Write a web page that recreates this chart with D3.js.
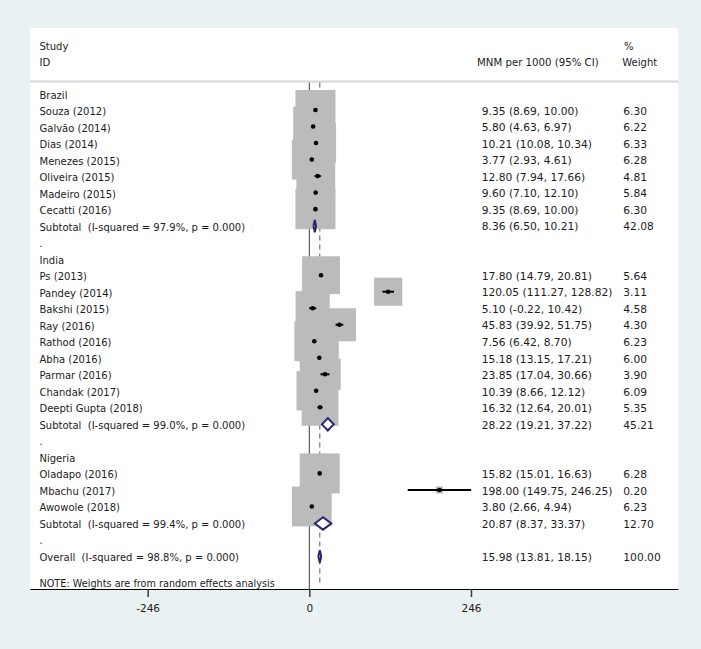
<!DOCTYPE html>
<html><head><meta charset="utf-8">
<script src="https://cdn.jsdelivr.net/npm/d3@7"></script>
<style>
html,body{margin:0;padding:0;background:#e9f1f2;}
svg{display:block;}
text{font-family:"DejaVu Sans",sans-serif;fill:#1c1c1c;white-space:pre;}
</style></head>
<body>
<svg id="chart" width="701" height="649"></svg>
<script>
// ---- data ----
const rowLabels = [
  "Brazil","Souza (2012)","Galvão (2014)","Dias (2014)","Menezes (2015)","Oliveira (2015)","Madeiro (2015)","Cecatti (2016)",
  "Subtotal  (I-squared = 97.9%, p = 0.000)",".",
  "India","Ps (2013)","Pandey (2014)","Bakshi (2015)","Ray (2016)","Rathod (2016)","Abha (2016)","Parmar (2016)","Chandak (2017)","Deepti Gupta (2018)",
  "Subtotal  (I-squared = 99.0%, p = 0.000)",".",
  "Nigeria","Oladapo (2016)","Mbachu (2017)","Awowole (2018)",
  "Subtotal  (I-squared = 99.4%, p = 0.000)",".",
  "Overall  (I-squared = 98.8%, p = 0.000)"
];
// row type: h = heading, s = study, t = subtotal, o = overall, b = blank
const rowTypes = ["h","s","s","s","s","s","s","s","t","b","h","s","s","s","s","s","s","s","s","s","t","b","h","s","s","s","t","b","o"];
const estimates = [null,9.35,5.80,10.21,3.77,12.80,9.60,9.35,8.36,null,null,17.80,120.05,5.10,45.83,7.56,15.18,23.85,10.39,16.32,28.22,null,null,15.82,198.00,3.80,20.87,null,15.98];
const lowerCI   = [null,8.69,4.63,10.08,2.93,7.94,7.10,8.69,6.50,null,null,14.79,111.27,-0.22,39.92,6.42,13.15,17.04,8.66,12.64,19.21,null,null,15.01,149.75,2.66,8.37,null,13.81];
const upperCI   = [null,10.00,6.97,10.34,4.61,17.66,12.10,10.00,10.21,null,null,20.81,128.82,10.42,51.75,8.70,17.21,30.66,12.12,20.01,37.22,null,null,16.63,246.25,4.94,33.37,null,18.15];
const weights   = [null,6.30,6.22,6.33,6.28,4.81,5.84,6.30,42.08,null,null,5.64,3.11,4.58,4.30,6.23,6.00,3.90,6.09,5.35,45.21,null,null,6.28,0.20,6.23,12.70,null,100.00];
const tickValues = [-246, 0, 246];
const overallEstimate = 15.98;
const headerLeft = ["Study","ID"];
const headerEst = "MNM per 1000 (95% CI)";
const headerWeight = ["%","Weight"];
const noteText = "NOTE: Weights are from random effects analysis";

// ---- layout ----
const panel = {x0:30, y0:28, x1:678, y1:589};
const svg = d3.select("#chart");
const x = d3.scaleLinear().domain([-425, 561]).range([panel.x0, panel.x1]);
const y = d3.scaleLinear().domain([0, 28]).range([94.5, 557]);
const labelX = 39.5, estX = 481.7, wX = 623.3;
const boxSide = w => 15.94 * Math.sqrt(w);
const loc = d3.formatLocale({decimal:".", thousands:",", grouping:[3], currency:["",""], minus:"-"});
const f2 = loc.format(".2f");
const fInt = loc.format("d");

svg.append("rect").attr("x",0).attr("y",0).attr("width",701).attr("height",649).attr("fill","#e9f1f2");
svg.append("rect").attr("x",panel.x0).attr("y",panel.y0).attr("width",panel.x1-panel.x0).attr("height",panel.y1-panel.y0).attr("fill","#ffffff");

// header
const hdr = svg.append("g").attr("font-size",10);
headerLeft.forEach((t,i)=>hdr.append("text").attr("x",labelX).attr("y",46+i*16.6).attr("dy","0.35em").text(t));
hdr.append("text").attr("x",477).attr("y",62.6).attr("dy","0.35em").attr("font-size",10.2).text(headerEst);
headerWeight.forEach((t,i)=>hdr.append("text").attr("x",i===0?624:622.3).attr("y",46+i*16.6).attr("dy","0.35em").attr("font-size",10).text(t));
svg.append("line").attr("x1",panel.x0).attr("x2",panel.x1).attr("y1",81.5).attr("y2",81.5).attr("stroke","#d6d6d6").attr("stroke-width",2);

// reference lines
svg.append("line").attr("x1",x(0)).attr("x2",x(0)).attr("y1",82.5).attr("y2",panel.y1).attr("stroke","#3a3a3a").attr("stroke-width",1);
svg.append("line").attr("x1",x(overallEstimate)).attr("x2",x(overallEstimate)).attr("y1",82.5).attr("y2",panel.y1-5)
  .attr("stroke","#9c3b4b").attr("stroke-width",1).attr("stroke-dasharray","5,4");

const rows = rowLabels.map((lab,i)=>({i,lab,type:rowTypes[i],est:estimates[i],lo:lowerCI[i],hi:upperCI[i],w:weights[i]}));
const studies = rows.filter(r=>r.type==="s");
const pooled = rows.filter(r=>r.type==="t"||r.type==="o");

// boxes
svg.append("g").selectAll("rect").data(studies).join("rect")
  .attr("x",d=>x(d.est)-boxSide(d.w)/2).attr("y",d=>y(d.i)-1-boxSide(d.w)/2)
  .attr("width",d=>boxSide(d.w)).attr("height",d=>boxSide(d.w)).attr("fill","#bbbbbb");
// CI lines
svg.append("g").selectAll("line").data(studies).join("line")
  .attr("x1",d=>x(d.lo)).attr("x2",d=>x(d.hi)).attr("y1",d=>y(d.i)-1).attr("y2",d=>y(d.i)-1)
  .attr("stroke","#000").attr("stroke-width",2);
// points
svg.append("g").selectAll("circle").data(studies).join("circle")
  .attr("cx",d=>x(d.est)).attr("cy",d=>y(d.i)-1).attr("r",2.3).attr("fill","#000");
// diamonds
svg.append("g").selectAll("path").data(pooled).join("path")
  .attr("d",d=>{const c=y(d.i)-0.5, h=6.2; return `M${x(d.lo)},${c}L${x(d.est)},${c-h}L${x(d.hi)},${c}L${x(d.est)},${c+h}Z`;})
  .attr("fill","#ffffff").attr("stroke","#27256f").attr("stroke-width",2).attr("stroke-linejoin","miter");

// text rows
const tg = svg.append("g");
tg.selectAll("text.lab").data(rows).join("text").attr("class","lab")
  .attr("x",labelX).attr("y",d=>y(d.i)+0.5).attr("dy","0.35em").attr("font-size",10).text(d=>d.lab);
const valued = rows.filter(r=>r.est!==null);
tg.selectAll("text.est").data(valued).join("text").attr("class","est")
  .attr("x",estX).attr("y",d=>y(d.i)).attr("dy","0.35em").attr("font-size",10.7)
  .text(d=>`${f2(d.est)} (${f2(d.lo)}, ${f2(d.hi)})`);
tg.selectAll("text.w").data(valued).join("text").attr("class","w")
  .attr("x",wX).attr("y",d=>y(d.i)).attr("dy","0.35em").attr("font-size",10.7)
  .text(d=>f2(d.w));
tg.append("text").attr("x",labelX).attr("y",583.3).attr("dy","0.35em").attr("font-size",9.7).text(noteText);

// axis
const axis = d3.axisBottom(x).tickValues(tickValues).tickSize(8).tickSizeOuter(0).tickPadding(8).tickFormat(fInt);
const ag = svg.append("g").attr("transform",`translate(0,${panel.y1})`).call(axis);
ag.select(".domain").attr("stroke","#000").attr("stroke-width",1.2);
ag.selectAll(".tick line").attr("stroke","#3a3a3a").attr("stroke-width",1.5);
ag.selectAll(".tick text").attr("font-family","DejaVu Sans").attr("font-size",10.5).attr("fill","#1c1c1c");
</script>
</body></html>
